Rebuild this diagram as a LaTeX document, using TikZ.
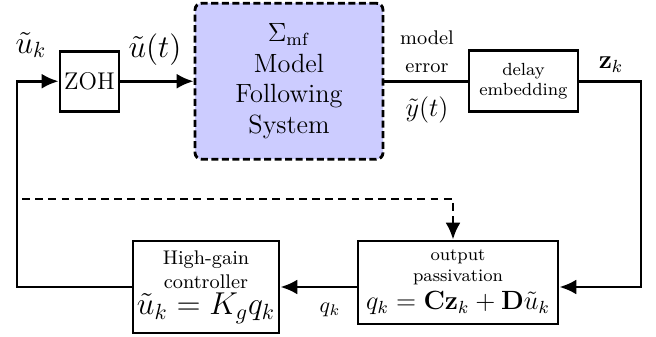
\documentclass[tikz,border=0pt]{standalone}
\usepackage{tikz}
\usetikzlibrary{arrows.meta,positioning,calc}
\definecolor{lavande}{HTML}{CCCCFF}

\begin{document}
\begin{tikzpicture}[
  bloc/.style={draw,line width=1.3pt,align=center,inner sep=1pt},
  lbl/.style={align=center,inner sep=1pt},
  fleche/.style={line width=1.3pt,-{Latex[length=2.7mm,width=2.4mm]}},
  lien/.style={line width=1.3pt}]
  \useasboundingbox (0,0) rectangle (10.496,-5.392);
  % chaine directe
  \node[bloc,font=\fontsize{11}{13}\selectfont,minimum width=0.944cm,minimum height=0.96cm] (zoh) at (1.432,-1.3) {ZOH};
  \node[bloc,font=\large,dash pattern=on 3.2pt off 1.6pt,rounded corners=3pt,fill=lavande,
        minimum width=3.008cm,minimum height=2.496cm] (mf) at (4.624,-1.3)
        {$\Sigma_{\mathrm{mf}}$\\Model\\Following\\System};
  \node[bloc,font=\footnotesize,minimum width=1.744cm,minimum height=0.976cm] (delay) at (8.376,-1.3)
        {delay\\embedding};
  % retour
  \node[bloc,font=\footnotesize,minimum width=3.2cm,minimum height=1.328cm] (pass) at (7.328,-4.52)
        {output\\passivation\\[2pt]{\large $q_k=\mathbf{C}\mathbf{z}_k+\mathbf{D}\tilde{u}_k$}};
  \node[bloc,font=\small,minimum width=2.336cm,minimum height=1.472cm] (ctrl) at (3.296,-4.592)
        {High-gain\\controller\\[1pt]{\Large $\tilde{u}_k=K_g q_k$}};
  \coordinate (coinD) at (10.256,-1.3);
  \coordinate (coinG) at (0.272,-1.3);
  \coordinate (dep) at (0.352,-3.184);
  % signaux
  \draw[fleche] (zoh.east) -- (mf.west);
  \draw[lien] (mf.east) -- (delay.west);
  \draw[fleche] (delay.east) -- (coinD) |- (pass.east |- ctrl.east);
  \draw[fleche] (pass.west |- ctrl.east) -- (ctrl.east);
  \draw[fleche] (ctrl.west) -| (coinG) -- (zoh.west);
  \draw[fleche,dash pattern=on 3.6pt off 2.4pt] (dep) -| ($(pass.north)+(-0.08,0)$);
  % etiquettes
  \node[lbl,font=\Large] (uk) at (0.496,-0.72) {$\tilde{u}_k$};
  \node[lbl,font=\Large] (ut) at (2.48,-0.8) {$\tilde{u}(t)$};
  \node[lbl,font=\small] (err) at (6.832,-0.83) {model\\[2pt]error};
  \node[lbl,font=\large] (yt) at (6.832,-1.76) {$\tilde{y}(t)$};
  \node[lbl,font=\large] (zk) at (9.776,-1.04) {$\mathbf{z}_k$};
  \node[lbl] (qk) at (5.28,-4.96) {$q_k$};
\end{tikzpicture}
\end{document}
